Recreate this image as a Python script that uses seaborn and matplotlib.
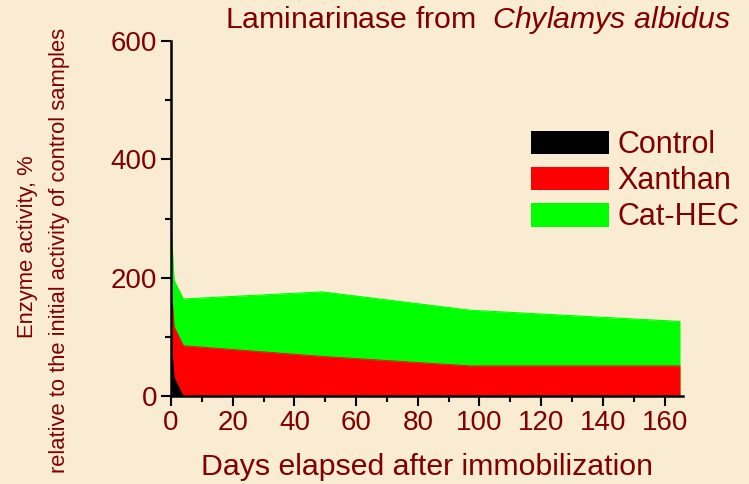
import seaborn as sns
import matplotlib.pyplot as plt
import pandas as pd
from matplotlib.ticker import MultipleLocator

# --------------------
# Data
# --------------------
days = [0, 1, 4, 49, 97, 165]
cat_hec = [290, 195, 164, 176, 145, 126]
xanthan = [190, 117, 85, 67, 51, 51]
control_days = [0, 1, 4]
control = [100, 32, 0]

series_names = ["Control", "Xanthan", "Cat-HEC"]
series_colors = ["#000000", "#ff0000", "#00ff00"]

bg = "#f9ecd3"
txt = "#800000"

sns.set_style("ticks")
plt.rcParams["font.family"] = ["Liberation Sans", "DejaVu Sans"]
plt.rcParams["mathtext.fontset"] = "custom"
plt.rcParams["mathtext.rm"] = "Liberation Sans"
plt.rcParams["mathtext.it"] = "Liberation Sans:italic"

fig = plt.figure(figsize=(7.49, 4.84), dpi=100, facecolor=bg)
ax = fig.add_axes([0.2283, 0.1818, 0.912 - 0.2283, 0.9153 - 0.1818])
ax.set_facecolor("none")

# --------------------
# Filled areas, drawn back to front
# --------------------
df = pd.DataFrame({"day": days, "Cat-HEC": cat_hec, "Xanthan": xanthan})
dfc = pd.DataFrame({"day": control_days, "Control": control})

h_green = ax.fill_between(df["day"], 0, df["Cat-HEC"], color=series_colors[2], lw=0, label="Cat-HEC")
sns.lineplot(data=df, x="day", y="Cat-HEC", color=series_colors[2], lw=0.8, ax=ax)
h_red = ax.fill_between(df["day"], 0, df["Xanthan"], color=series_colors[1], lw=0, label="Xanthan")
sns.lineplot(data=df, x="day", y="Xanthan", color=series_colors[1], lw=0.6, ax=ax)
h_black = ax.fill_between(dfc["day"], 0, dfc["Control"], color=series_colors[0], lw=0, label="Control")

ax.set_xlim(0, 166)
ax.set_ylim(0, 600)
ax.xaxis.set_major_locator(MultipleLocator(20))
ax.xaxis.set_minor_locator(MultipleLocator(10))
ax.yaxis.set_major_locator(MultipleLocator(200))
ax.yaxis.set_minor_locator(MultipleLocator(100))
ax.tick_params(which="major", direction="out", length=7, width=1.5, colors="black",
               labelcolor=txt, labelsize=20, pad=3)
ax.tick_params(which="minor", direction="out", length=4, width=1.5, colors="black")
sns.despine(ax=ax)
for s in ["left", "bottom"]:
    ax.spines[s].set_linewidth(1.8)
    ax.spines[s].set_color("black")

ax.set_xlabel("Days elapsed after immobilization", fontsize=21.8, color=txt, labelpad=12)
ax.set_ylabel("")

# y label as two separate lines
fig.text(28 / 749, 1 - 247 / 484, "Enzyme activity, %", rotation=90, fontsize=15.8,
         color=txt, ha="center", va="center")
fig.text(60 / 749, 1 - 250 / 484, "relative to the initial activity of control samples",
         rotation=90, fontsize=15.8, color=txt, ha="center", va="center")

# title, right aligned, with italic species name
fig.text(731 / 749, 1 - 20 / 484, r"Laminarinase from  $\mathit{Chylamys\ albidus}$",
         fontsize=21.8, color=txt, ha="right", va="center")

# --------------------
# Legend
# --------------------
leg = ax.legend(handles=[h_black, h_red, h_green], labels=series_names,
                loc="upper left", bbox_to_anchor=(531 / 749, 1 - 130 / 484),
                bbox_transform=fig.transFigure, frameon=False, fontsize=22,
                handlelength=2.55, handleheight=0.82, handletextpad=0.28,
                labelspacing=0.2, borderpad=0, borderaxespad=0)
for t in leg.get_texts():
    t.set_color(txt)

fig.savefig("out.png", dpi=100, facecolor=bg)
